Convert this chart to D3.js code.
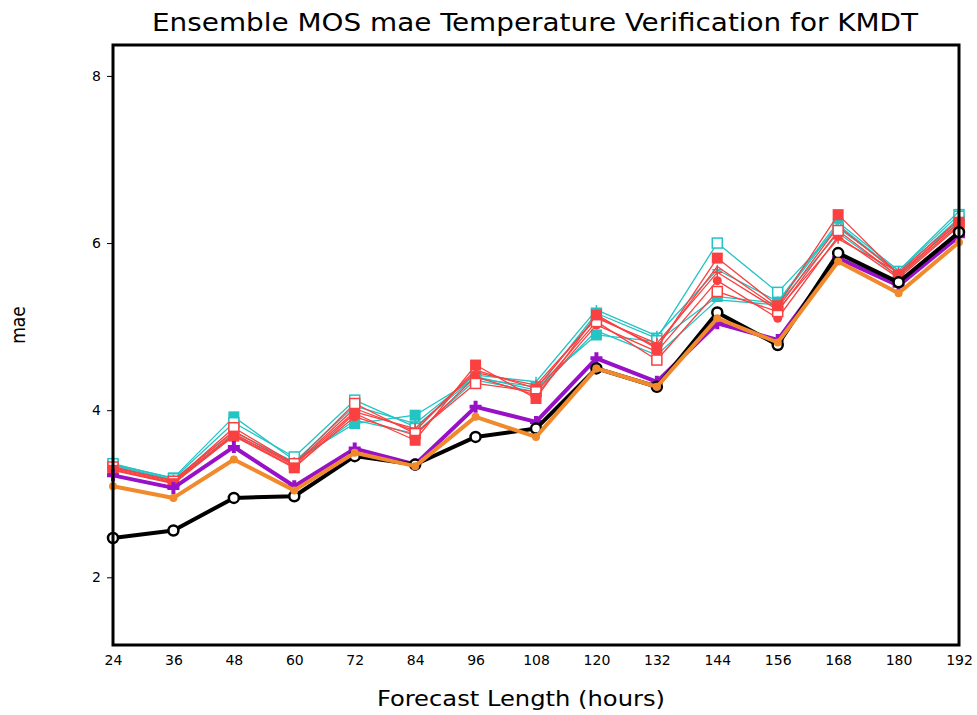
<!DOCTYPE html>
<html>
<head>
<meta charset="utf-8">
<script src="https://cdn.jsdelivr.net/npm/d3@7"></script>
<style>
  body { margin: 0; background: #fff; }
  text { font-family: "DejaVu Sans Condensed", "DejaVu Sans", sans-serif; fill: #000; }
</style>
</head>
<body>
<div id="vis-container"></div>
<script>
// forecast hours
var hours = [24, 36, 48, 60, 72, 84, 96, 108, 120, 132, 144, 156, 168, 180, 192];
var yTicks = [2, 4, 6, 8];

// thick lines
var opMos   = [2.47, 2.56, 2.95, 2.97, 3.45, 3.35, 3.68, 3.78, 4.50, 4.28, 5.17, 4.78, 5.88, 5.53, 6.13];
var ensMean = [3.09, 2.95, 3.41, 3.04, 3.49, 3.33, 3.92, 3.68, 4.50, 4.28, 5.10, 4.81, 5.78, 5.40, 6.01];
var ctrl    = [3.22, 3.07, 3.56, 3.09, 3.54, 3.35, 4.04, 3.86, 4.62, 4.34, 5.04, 4.84, 5.82, 5.49, 6.08];

// ensemble members (thin)
var redFill   = [3.28, 3.12, 3.69, 3.31, 3.96, 3.64, 4.54, 4.14, 5.14, 4.74, 5.82, 5.25, 6.34, 5.62, 6.25];
var redOpen   = [3.32, 3.15, 3.79, 3.36, 4.08, 3.72, 4.32, 4.22, 5.06, 4.60, 5.42, 5.18, 6.15, 5.60, 6.22];
var redPlus   = [3.30, 3.14, 3.72, 3.34, 3.98, 3.78, 4.45, 4.30, 5.10, 4.80, 5.65, 5.20, 6.05, 5.65, 6.28];
var redDot    = [3.29, 3.13, 3.70, 3.32, 3.92, 3.70, 4.40, 4.18, 5.02, 4.70, 5.55, 5.10, 6.08, 5.58, 6.20];
var redLine   = [3.31, 3.16, 3.75, 3.35, 4.02, 3.75, 4.48, 4.26, 5.12, 4.76, 5.72, 5.22, 6.20, 5.63, 6.24];
var cyanFill  = [3.35, 3.19, 3.92, 3.40, 3.84, 3.94, 4.38, 4.28, 4.90, 4.82, 5.36, 5.28, 6.22, 5.64, 6.30];
var cyanOpen  = [3.36, 3.18, 3.85, 3.44, 4.12, 3.80, 4.40, 4.24, 5.16, 4.86, 6.00, 5.41, 6.18, 5.66, 6.34];
var cyanPlus  = [3.34, 3.17, 3.74, 3.38, 4.05, 3.84, 4.42, 4.34, 5.20, 4.89, 5.68, 5.30, 6.25, 5.67, 6.38];
var cyanLine  = [3.33, 3.16, 3.70, 3.37, 3.88, 3.72, 4.36, 4.22, 4.95, 4.66, 5.32, 5.26, 6.12, 5.60, 6.28];

var RED = "#fa4040", CYAN = "#22c4c4", ORANGE = "#f08a2c", PURPLE = "#9810c8";

var series = [
  { vals: cyanLine, color: CYAN, w: 1.3, mark: "none" },
  { vals: cyanFill, color: CYAN, w: 1.3, mark: "fsquare" },
  { vals: cyanOpen, color: CYAN, w: 1.3, mark: "osquare" },
  { vals: cyanPlus, color: CYAN, w: 1.3, mark: "plus" },
  { vals: redLine, color: RED, w: 1.3, mark: "none" },
  { vals: redDot, color: RED, w: 1.3, mark: "fcircle" },
  { vals: redPlus, color: RED, w: 1.3, mark: "plus" },
  { vals: redOpen, color: RED, w: 1.3, mark: "osquare" },
  { vals: redFill, color: RED, w: 1.3, mark: "fsquare" },
  { vals: ctrl, color: PURPLE, w: 4, mark: "bigplus" },
  { vals: opMos, color: "#000", w: 4, mark: "ocircle" },
  { vals: ensMean, color: ORANGE, w: 4, mark: "fcircle" }
];

var svg = d3.select("#vis-container")
  .append("svg")
  .attr("width", 977)
  .attr("height", 715);

var plotL = 113, plotR = 959, plotT = 45, plotB = 645;

var xScale = d3.scaleLinear().domain([24, 192]).range([plotL, plotR]);
var yScale = d3.scaleLinear().domain([1.19, 8.37]).range([plotB, plotT]);

var line = d3.line()
  .x(function (d, i) { return xScale(hours[i]); })
  .y(function (d) { return yScale(d); });

// title
svg.append("text")
  .attr("x", 535)
  .attr("y", 31)
  .attr("text-anchor", "middle")
  .attr("textLength", 766)
  .attr("lengthAdjust", "spacingAndGlyphs")
  .style("font-size", "25px")
  .text("Ensemble MOS mae Temperature Verification for KMDT");

// lines
series.forEach(function (s) {
  svg.append("path")
    .datum(s.vals)
    .attr("fill", "none")
    .attr("stroke", s.color)
    .attr("stroke-width", s.w)
    .attr("stroke-linejoin", "round")
    .attr("d", line);

  var g = svg.append("g");
  s.vals.forEach(function (v, i) {
    var cx = xScale(hours[i]), cy = yScale(v);
    if (s.mark == "fsquare") {
      g.append("rect").attr("x", cx - 5.5).attr("y", cy - 5.5).attr("width", 11).attr("height", 11)
        .attr("fill", s.color);
    } else if (s.mark == "osquare") {
      g.append("rect").attr("x", cx - 5).attr("y", cy - 5).attr("width", 10).attr("height", 10)
        .attr("fill", "#fff").attr("stroke", s.color).attr("stroke-width", 1.5);
    } else if (s.mark == "plus") {
      g.append("path").attr("d", "M" + (cx - 5) + "," + cy + "h10M" + cx + "," + (cy - 5) + "v10")
        .attr("stroke", s.color).attr("stroke-width", 1.5);
    } else if (s.mark == "bigplus") {
      g.append("path").attr("d", "M" + (cx - 6) + "," + cy + "h12M" + cx + "," + (cy - 6) + "v12")
        .attr("stroke", s.color).attr("stroke-width", 4);
    } else if (s.mark == "fcircle") {
      g.append("circle").attr("cx", cx).attr("cy", cy).attr("r", s.w > 2 ? 4 : 4.5)
        .attr("fill", s.color);
    } else if (s.mark == "ocircle") {
      g.append("circle").attr("cx", cx).attr("cy", cy).attr("r", 5)
        .attr("fill", "#fff").attr("stroke", s.color).attr("stroke-width", 2.5);
    }
  });
});

// frame
svg.append("rect")
  .attr("x", plotL)
  .attr("y", plotT)
  .attr("width", plotR - plotL)
  .attr("height", plotB - plotT)
  .attr("fill", "none")
  .attr("stroke", "#000")
  .attr("stroke-width", 3);

// y axis
var yAxis = svg.append("g")
  .attr("transform", "translate(" + (plotL - 1) + ",0)")
  .call(d3.axisLeft(yScale).tickValues(yTicks).tickSize(5).tickPadding(6).tickFormat(d3.format("d")));
yAxis.select(".domain").remove();
yAxis.selectAll("text").style("font-size", "14px").style("font-family", "DejaVu Sans, sans-serif");

// x axis
var xAxis = svg.append("g")
  .attr("transform", "translate(0," + (plotB + 2) + ")")
  .call(d3.axisBottom(xScale).tickValues(hours).tickSize(0).tickPadding(8));
xAxis.select(".domain").remove();
xAxis.selectAll("text").style("font-size", "14px").style("font-family", "DejaVu Sans, sans-serif");

// axis labels
svg.append("text")
  .attr("x", 521)
  .attr("y", 706)
  .attr("text-anchor", "middle")
  .attr("textLength", 288)
  .attr("lengthAdjust", "spacingAndGlyphs")
  .style("font-size", "21px")
  .text("Forecast Length (hours)");

svg.append("text")
  .attr("transform", "rotate(-90)")
  .attr("x", -325)
  .attr("y", 25)
  .attr("text-anchor", "middle")
  .style("font-size", "19px")
  .text("mae");
</script>
</body>
</html>
